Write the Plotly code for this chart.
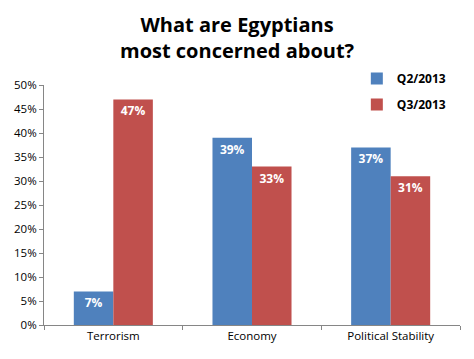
import plotly.graph_objects as go

categories = ["Terrorism", "Economy", "Political Stability"]
q2_values = [7, 39, 37]
q3_values = [47, 33, 31]
series_names = ["Q2/2013", "Q3/2013"]
y_ticks = [0, 5, 10, 15, 20, 25, 30, 35, 40, 45, 50]

fig = go.Figure()
for i, (name, vals, color) in enumerate([(series_names[0], q2_values, "#4F81BD"),
                                         (series_names[1], q3_values, "#C0504D")]):
    fig.add_trace(go.Bar(
        x=categories, y=vals, name=name, legendgroup=f"g{i}",
        marker=dict(color=color, line=dict(width=0)),
        text=[f"{v}%" for v in vals], textposition="inside", insidetextanchor="end",
        textfont=dict(family="Open Sans", size=12, color="white", weight="bold"),
        textangle=0,
    ))

fig.add_annotation(
    text="<b>What are Egyptians<br>most concerned about?</b>",
    xref="paper", yref="paper", x=0.466, y=1.2, xanchor="center", yanchor="middle",
    showarrow=False, font=dict(family="Open Sans", size=20, color="#000000"),
)

# page body has an 8px default margin, so the figure is sized/offset to compensate
fig.update_layout(
    width=466, height=351,
    margin=dict(l=36, r=14, t=77, b=34, autoexpand=False),
    paper_bgcolor="white", plot_bgcolor="white",
    barmode="group", bargap=0.43, bargroupgap=0,
    legend=dict(x=0.752, y=1.087, xanchor="left", yanchor="top",
                font=dict(family="Open Sans", size=12, color="#000000", weight="bold"),
                bgcolor="rgba(0,0,0,0)", tracegroupgap=7, itemwidth=30),
    uniformtext=dict(minsize=8, mode="show"),
    font=dict(family="Open Sans", size=11.5, color="#000000"),
)
fig.update_yaxes(range=[0, 50], tickvals=y_ticks, ticktext=[f"{t}%" for t in y_ticks],
                 showgrid=False, showline=True, linecolor="#868686", linewidth=1,
                 ticks="outside", ticklen=4, tickcolor="#868686", zeroline=False,
                 tickfont=dict(family="Open Sans", size=11.5), automargin=False)
fig.update_xaxes(showgrid=False, showline=True, linecolor="#868686", linewidth=1,
                 ticks="outside", ticklen=4, tickcolor="#868686", tickson="boundaries",
                 tickfont=dict(family="Open Sans", size=11.5), automargin=False)

fig.write_html("out.html")
